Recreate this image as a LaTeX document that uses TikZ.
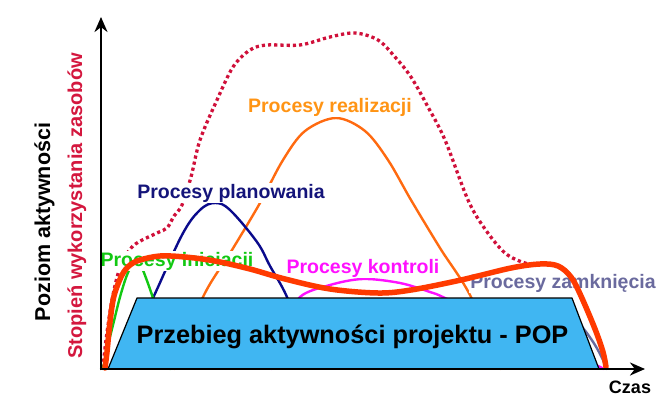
\documentclass[tikz,border=0pt]{standalone}
\usepackage{fontspec}
\setmainfont{Liberation Sans}
\usetikzlibrary{arrows.meta}
\definecolor{cDot}{HTML}{D0103A}
\definecolor{cRed}{HTML}{FF3A00}
\definecolor{cOrange}{HTML}{FF6A10}
\definecolor{cOrangeT}{HTML}{FF9414}
\definecolor{cNavy}{HTML}{0A0A8C}
\definecolor{cNavyT}{HTML}{14147A}
\definecolor{cGreen}{HTML}{12C812}
\definecolor{cMag}{HTML}{FF10FF}
\definecolor{cSlate}{HTML}{6A6A9E}
\definecolor{cBlue}{HTML}{40B6F2}
\definecolor{cStop}{HTML}{D4173E}
\begin{document}
\begin{tikzpicture}[x=1pt,y=-1pt,
  lbl/.style={font=\bfseries\fontsize{19.5}{21}\selectfont, anchor=base, inner sep=1pt, fill=white},
  proc/.style={line width=2.4pt, line join=round, line cap=round},
  axisline/.style={line width=2.6pt, -{Stealth[length=15pt,width=13pt]}}]
\useasboundingbox (0,0) rectangle (658,396);
\fill[white] (0,0) rectangle (658,396);

% resource usage (dotted)
\draw[cDot, line width=3.3pt, line cap=butt, dash pattern=on 3.2pt off 3pt]
  plot[smooth, tension=0.55] coordinates {(103,368) (106,340) (112,300) (120,268) (133,246) (157,233) (167,228) (174,216) (182,205) (191,177) (200,140) (217,100) (233,67) (250,50) (267,45) (300,45) (330,37) (355,33) (378,40) (395,57) (411,77) (428,107) (445,140) (468,200) (485,229) (505,253) (525,263) (541,265)};

% process curves
\draw[proc, cOrange] plot[smooth, tension=0.55] coordinates {(175,369) (203,297) (232,250) (260,203) (283,160) (305,131) (336,118) (365,131) (388,160) (411,200) (440,248) (471,297) (500,369)};
\draw[proc, cNavy] plot[smooth, tension=0.6] coordinates {(110,367) (130,345) (153,298) (182,235) (200,210) (215,203) (230,210) (257,242) (270,266) (287,297) (305,345) (325,369)};
\draw[proc, cGreen] plot[smooth, tension=0.55] coordinates {(103,369) (108,345) (113,325) (120,297) (127,275) (134,262) (140,264) (146,278) (153,298) (160,320) (170,369)};
\draw[proc, cMag] plot[smooth, tension=0.55] coordinates {(272,369) (288,325) (300,297) (330,285) (363,279) (400,283) (430,292) (445,298) (500,325) (560,350) (598,366) (603,369)};
\draw[proc, cSlate] plot[smooth, tension=0.55] coordinates {(480,369) (540,318) (568,312) (583,328) (595,345) (603,360) (606,369)};

% labels
\node[lbl, text=cOrangeT] (lreal) at (330,112) {Procesy realizacji};
\node[lbl, text=cNavyT] (lplan) at (231,198) {Procesy planowania};
\node[lbl, text=cGreen] (linic) at (177,266) {Procesy iniciacji};
\node[lbl, text=cMag] (lkont) at (363,273) {Procesy kontroli};
\node[lbl, text=cSlate] (lzamk) at (563,288) {Procesy zamknięcia};

% project activity trapezoid
\draw[fill=cBlue, line width=1.2pt, line join=round] (108,369) -- (137,298) -- (572,298) -- (599,369) -- cycle;
\node[font=\bfseries\fontsize{25.3}{27}\selectfont, anchor=base, inner sep=0pt] (pop) at (352.5,343) {Przebieg aktywności projektu - POP};

% overall activity (thick red)
\draw[cRed, line width=5.5pt, line cap=round, line join=round]
  plot[smooth, tension=0.55] coordinates {(105,368) (107,352) (110,322) (114,296) (122,275) (130,265) (140,260) (160,256) (185,257) (215,261) (250,269) (285,279) (330,289) (378,293) (411,290) (461,280) (511,268) (540,264) (558,266) (571,277) (581,296) (595,329) (603,352) (606,367)};

% axes
\coordinate (o) at (101,369);
\coordinate (ytop) at (101,17);
\coordinate (xend) at (645,369);
\draw[axisline] (101,370.3) -- (ytop);
\draw[axisline] (99.7,369) -- (xend);

% axis labels
\node[font=\bfseries\fontsize{21.5}{23}\selectfont, rotate=90, anchor=base, inner sep=0pt] (lpoz) at (50,222) {Poziom aktywności};
\node[font=\bfseries\fontsize{20}{22}\selectfont, rotate=90, anchor=base, inner sep=0pt, text=cStop] (lstop) at (82,206) {Stopień wykorzystania zasobów};
\node[font=\bfseries\fontsize{18}{20}\selectfont, anchor=base, inner sep=0pt] (lczas) at (630,393) {Czas};
\end{tikzpicture}
\end{document}
